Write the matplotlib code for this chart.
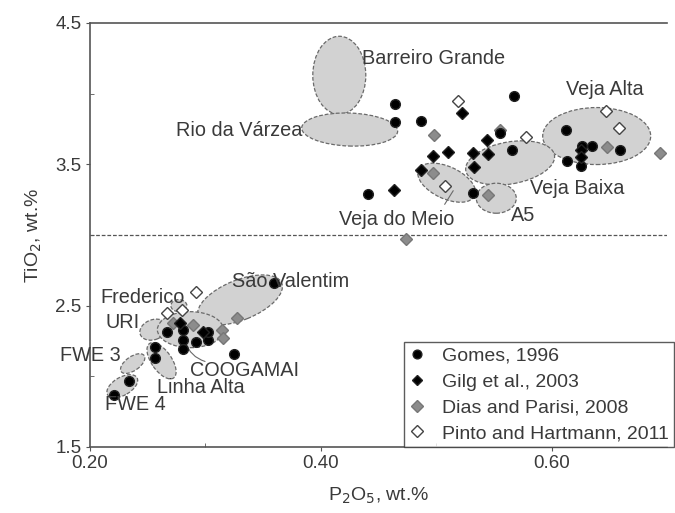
import matplotlib
matplotlib.use("Agg")
import matplotlib.pyplot as plt
from matplotlib.patches import Ellipse
from matplotlib import transforms

plt.rcParams["font.family"] = ["Liberation Sans", "DejaVu Sans"]

INK = "#3a3a3a"
GREY_FILL = "#d2d2d2"
GREY_EDGE = "#6a6a6a"
GREY_MK = "#8c8c8c"

# --- data (P2O5 wt.%, TiO2 wt.%) ---------------------------------------
gomes_x = [0.464, 0.464, 0.487, 0.567, 0.441, 0.555, 0.566, 0.532, 0.612,
           0.626, 0.635, 0.659, 0.613, 0.625,
           0.359, 0.325, 0.267, 0.256, 0.256, 0.281, 0.281, 0.281, 0.292,
           0.302, 0.302, 0.234, 0.221]
gomes_y = [3.93, 3.80, 3.81, 3.98, 3.29, 3.72, 3.60, 3.30, 3.74,
           3.63, 3.63, 3.60, 3.52, 3.49,
           2.66, 2.16, 2.31, 2.21, 2.13, 2.33, 2.26, 2.19, 2.24,
           2.26, 2.31, 1.97, 1.87]

gilg_x = [0.522, 0.463, 0.487, 0.497, 0.510, 0.532, 0.533, 0.544, 0.545,
          0.625, 0.625, 0.278, 0.298]
gilg_y = [3.86, 3.32, 3.46, 3.56, 3.59, 3.58, 3.48, 3.67, 3.57,
          3.60, 3.55, 2.38, 2.31]

dias_x = [0.498, 0.497, 0.545, 0.648, 0.694, 0.474, 0.555,
          0.327, 0.272, 0.289, 0.314, 0.315]
dias_y = [3.71, 3.44, 3.28, 3.62, 3.58, 2.97, 3.74,
          2.41, 2.38, 2.36, 2.33, 2.27]

pinto_x = [0.519, 0.578, 0.647, 0.658, 0.508, 0.292, 0.267, 0.280]
pinto_y = [3.95, 3.69, 3.88, 3.76, 3.35, 2.60, 2.45, 2.47]

# deposit fields: centre in data units, size in pixels, tilt on screen
field_names = ["Barreiro Grande", "Rio da Várzea", "Veja Alta", "Veja Baixa",
               "Veja do Meio", "A5", "São Valentim", "Frederico", "URI",
               "COOGAMAI", "FWE 3", "FWE 4", "Linha Alta"]
field_cx = [0.416, 0.425, 0.639, 0.564, 0.509, 0.552, 0.330, 0.277, 0.255,
            0.287, 0.237, 0.228, 0.262]
field_cy = [4.13, 3.746, 3.70, 3.51, 3.37, 3.26, 2.54, 2.50, 2.33,
            2.33, 2.09, 1.93, 2.11]
field_w = [53, 96, 108, 90, 62, 40, 90, 16, 28, 66, 28, 34, 42]
field_h = [78, 33, 57, 42, 32, 30, 40, 12, 20, 36, 14, 18, 20]
field_ang = [0, -2, 0, 10, -25, 0, 22, 0, 20, 0, 35, 30, -55]

labels = ["Barreiro Grande", "Rio da Várzea", "Veja Alta", "Veja Baixa",
          "Veja do Meio", "A5", "São Valentim", "Frederico", "URI",
          "FWE 3", "COOGAMAI", "Linha Alta", "FWE 4"]
label_x = [0.436, 0.384, 0.646, 0.581, 0.416, 0.565, 0.323, 0.209, 0.228,
           0.174, 0.287, 0.258, 0.213]
label_y = [4.25, 3.74, 4.03, 3.33, 3.11, 3.14, 2.67, 2.56, 2.38,
           2.15, 2.04, 1.92, 1.80]
label_ha = ["left", "right", "center", "left", "left", "left", "left",
            "left", "center", "left", "left", "left", "left"]

fig = plt.figure(figsize=(6.75, 5.13), dpi=100)
ax = fig.add_axes([0.1333, 0.1287, 0.855, 0.8265])
ax.set_xlim(0.20, 0.70)
ax.set_ylim(1.5, 4.5)

for cx, cy, w, h, a in zip(field_cx, field_cy, field_w, field_h, field_ang):
    tr = fig.dpi_scale_trans + transforms.ScaledTranslation(cx, cy, ax.transData)
    e = Ellipse((0, 0), w / 100, h / 100, angle=a, transform=tr,
                fc=GREY_FILL, ec=GREY_EDGE, lw=0.9, ls=(0, (3, 1.5)), zorder=1)
    ax.add_patch(e)

ax.axhline(3.0, color="#555555", lw=0.9, ls=(0, (3, 1.5)), zorder=0)

ax.plot(gomes_x, gomes_y, "o", ms=7, mfc="black", mec="#222222", ls="none",
        zorder=4, label="Gomes, 1996")
ax.plot(gilg_x, gilg_y, "D", ms=6, mfc="black", mec="#222222", ls="none",
        zorder=4, label="Gilg et al., 2003")
ax.plot(dias_x, dias_y, "D", ms=6.5, mfc=GREY_MK, mec="#777777", ls="none",
        zorder=3, label="Dias and Parisi, 2008")
ax.plot(pinto_x, pinto_y, "D", ms=6.5, mfc="white", mec="#444444", mew=1.0,
        ls="none", zorder=3, label="Pinto and Hartmann, 2011")

for s, x, y, ha in zip(labels, label_x, label_y, label_ha):
    ax.text(x, y, s, fontsize=14.3, color=INK, ha=ha, va="center",
            zorder=5, clip_on=False)

# leader lines
ax.annotate("", xy=(0.516, 3.33), xytext=(0.506, 3.20),
            arrowprops=dict(arrowstyle="-", color=GREY_EDGE, lw=0.8))
ax.annotate("", xy=(0.282, 2.26), xytext=(0.302, 2.10),
            arrowprops=dict(arrowstyle="-", color=GREY_EDGE, lw=0.8,
                            connectionstyle="arc3,rad=-0.3"))

ax.set_xticks([0.20, 0.40, 0.60])
ax.set_xticklabels(["0.20", "0.40", "0.60"])
ax.set_xticks([0.30, 0.50], minor=True)
ax.set_yticks([1.5, 2.5, 3.5, 4.5])
ax.set_yticklabels(["1.5", "2.5", "3.5", "4.5"])
ax.set_yticks([2.0, 3.0, 4.0], minor=True)
ax.tick_params(axis="both", which="major", direction="out", length=3,
               labelsize=13.5, colors="#555555", labelcolor=INK, pad=3)
ax.tick_params(axis="both", which="minor", direction="in", length=3,
               colors="#555555")

ax.spines["right"].set_visible(False)
for sp in ["left", "bottom", "top"]:
    ax.spines[sp].set_color("#555555")
    ax.spines[sp].set_linewidth(1.2)

ax.set_xlabel("P$_2$O$_5$, wt.%", fontsize=14, color=INK, labelpad=10)
ax.set_ylabel("TiO$_2$, wt.%", fontsize=14, color=INK, labelpad=8)

leg = ax.legend(loc="lower left", bbox_to_anchor=(0.544, 0.0), fontsize=14,
                frameon=True, fancybox=False, borderaxespad=0,
                handletextpad=0.9, handlelength=0.8, labelspacing=0.42,
                borderpad=0.25, markerscale=0.9)
leg.get_frame().set_edgecolor("#333333")
leg.get_frame().set_linewidth(1.0)
for t in leg.get_texts():
    t.set_color(INK)

fig.savefig("out.png", dpi=100, facecolor="white")
